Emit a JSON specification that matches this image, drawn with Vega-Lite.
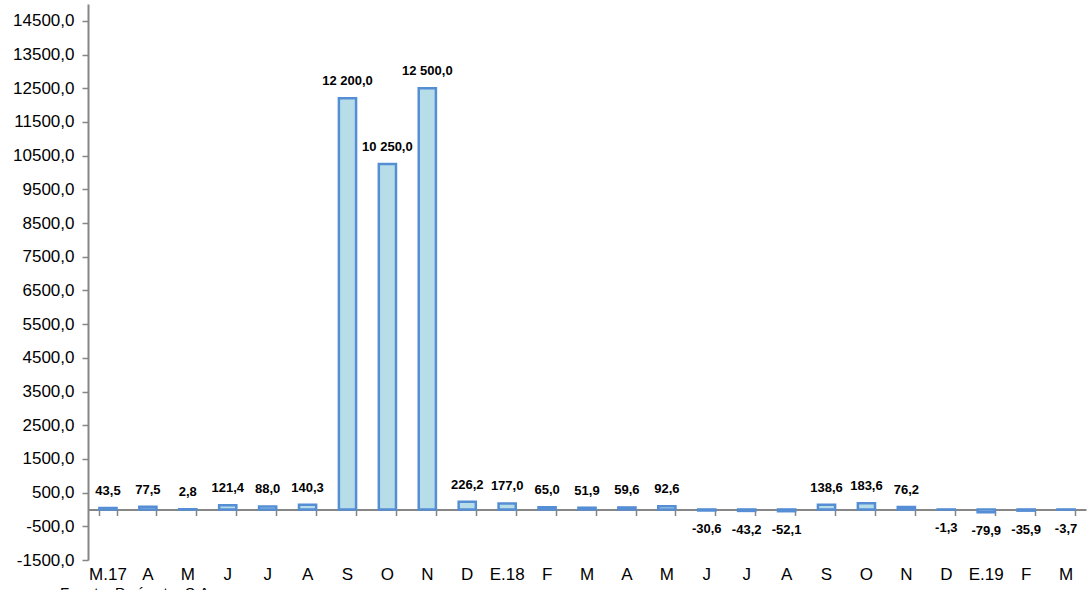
{
  "$schema": "https://vega.github.io/schema/vega-lite/v6.json",
  "width": 998,
  "height": 556,
  "autosize": {"type": "none"},
  "padding": {"left": 88, "top": 4, "right": 2, "bottom": 30},
  "background": "white",
  "title": {"text": "Fuente: Perímetro S.A.", "orient": "bottom", "anchor": "start", "frame": "group", "dx": -28, "offset": 4, "fontSize": 15, "fontWeight": "normal", "color": "#000000", "font": "Liberation Sans"},
  "data": {"values": [
    {"id": "M.17|1", "v": 43.5},
    {"id": "A|2", "v": 77.5},
    {"id": "M|3", "v": 2.8},
    {"id": "J|4", "v": 121.4},
    {"id": "J|5", "v": 88.0},
    {"id": "A|6", "v": 140.3},
    {"id": "S|7", "v": 12200},
    {"id": "O|8", "v": 10250},
    {"id": "N|9", "v": 12500},
    {"id": "D|10", "v": 226.2},
    {"id": "E.18|11", "v": 177.0},
    {"id": "F|12", "v": 65.0},
    {"id": "M|13", "v": 51.9},
    {"id": "A|14", "v": 59.6},
    {"id": "M|15", "v": 92.6},
    {"id": "J|16", "v": -30.6},
    {"id": "J|17", "v": -43.2},
    {"id": "A|18", "v": -52.1},
    {"id": "S|19", "v": 138.6},
    {"id": "O|20", "v": 183.6},
    {"id": "N|21", "v": 76.2},
    {"id": "D|22", "v": -1.3},
    {"id": "E.19|23", "v": -79.9},
    {"id": "F|24", "v": -35.9},
    {"id": "M|25", "v": -3.7}
  ]},
  "encoding": {
    "y": {
      "field": "v", "type": "quantitative",
      "scale": {"domain": [-1500, 15000], "nice": false, "zero": false},
      "axis": {
        "title": null, "values": [-1500, -500, 500, 1500, 2500, 3500, 4500, 5500, 6500, 7500, 8500, 9500, 10500, 11500, 12500, 13500, 14500],
        "format": ".1f", "grid": false, "labelFontSize": 17, "labelColor": "#000000", "labelFont": "Liberation Sans",
        "domainColor": "#868686", "domainWidth": 2, "tickColor": "#868686", "tickWidth": 1.5, "tickSize": 6, "labelPadding": 8
      }
    }
  },
  "layer": [
    {
      "mark": {"type": "bar", "fill": "#B7DEE8", "stroke": "#558ED5", "strokeWidth": 2.5},
      "encoding": {
        "x": {
          "field": "id", "type": "nominal", "sort": null,
          "scale": {"paddingInner": 0.57, "paddingOuter": 0.285},
          "axis": {"title": null, "orient": "bottom", "domain": false, "ticks": false, "labelAngle": 0, "labelFontSize": 17, "labelColor": "#000000", "labelFont": "Liberation Sans", "labelPadding": 6, "labelExpr": "split(datum.label, '|')[0]"}
        }
      }
    },
    {
      "transform": [{"filter": "datum.v >= 0"}],
      "mark": {"type": "text", "baseline": "middle", "dy": -17, "fontSize": 13, "fontWeight": "bold", "font": "Liberation Sans", "color": "#000000"},
      "encoding": {
        "x": {
          "field": "id", "type": "nominal", "sort": null,
          "axis": {"title": null, "orient": "bottom", "offset": -50.5, "labels": false, "domain": true, "domainColor": "#868686", "domainWidth": 2, "ticks": true, "tickBand": "extent", "tickColor": "#868686", "tickWidth": 1.5, "tickSize": 6}
        },
        "text": {"field": "v", "type": "quantitative", "format": ",.1f"}
      }
    },
    {
      "transform": [{"filter": "datum.v < 0"}],
      "mark": {"type": "text", "baseline": "middle", "dy": 19, "fontSize": 13, "fontWeight": "bold", "font": "Liberation Sans", "color": "#000000"},
      "encoding": {
        "x": {"field": "id", "type": "nominal", "sort": null, "axis": null},
        "text": {"field": "v", "type": "quantitative", "format": ",.1f"}
      }
    }
  ],
  "resolve": {"axis": {"x": "independent"}},
  "config": {
    "view": {"stroke": null},
    "font": "Liberation Sans",
    "locale": {"number": {"decimal": ",", "thousands": " ", "grouping": [3], "currency": ["", ""], "minus": "-"}}
  }
}
